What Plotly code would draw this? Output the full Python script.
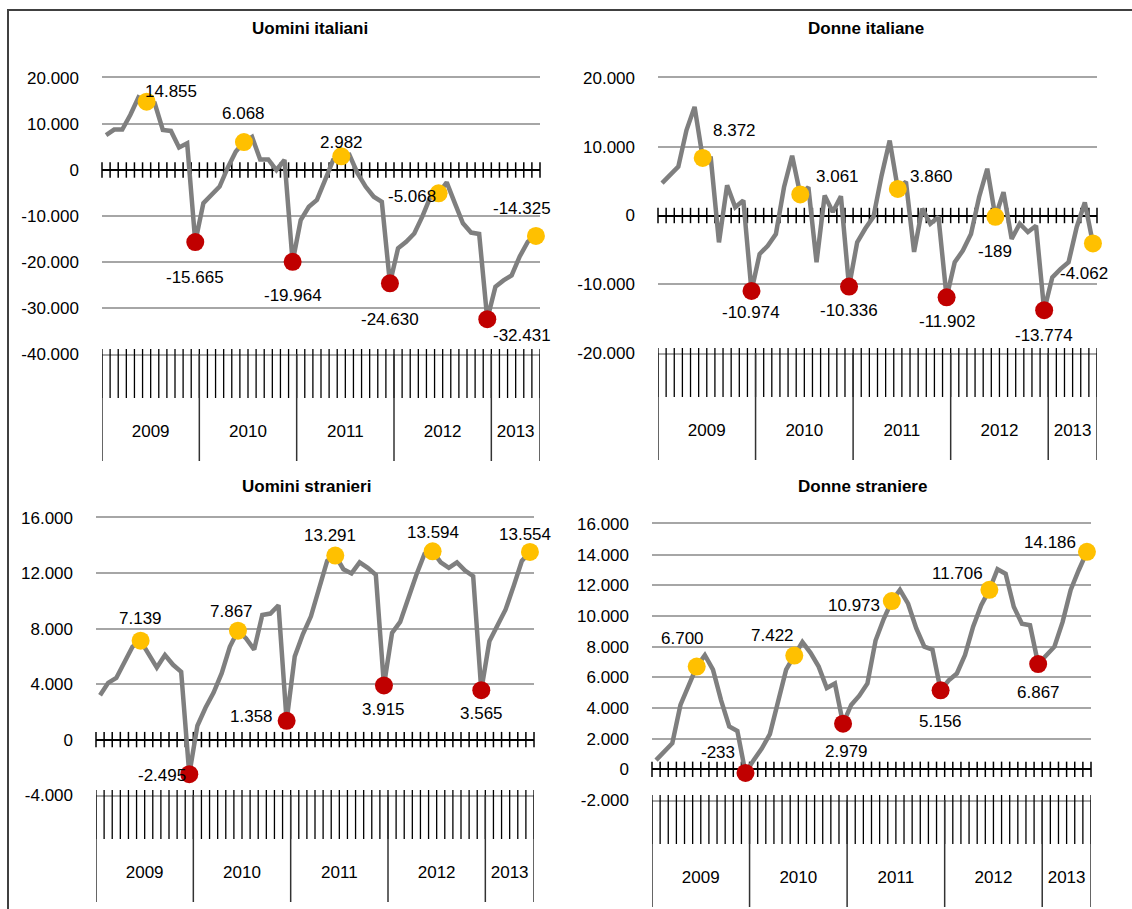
import plotly.graph_objects as go

W, H = 1132, 909

# ---------------- data ----------------
years = ["2009", "2010", "2011", "2012", "2013"]
months_per_year = [12, 12, 12, 12, 6]

titles = ["Uomini italiani", "Donne italiane", "Uomini stranieri", "Donne straniere"]

uomini_italiani = [7600, 8800, 8800, 12000, 15800, 14855, 14500, 8700, 8500, 4900, 5800, -15665,
                   -7200, -5400, -3600, 500, 4000, 6068, 7200, 2300, 2300, 0, 2200, -19964,
                   -10900, -8000, -6500, -2200, 2200, 2982, 3300, -700, -3600, -5800, -6900, -24630,
                   -17000, -15600, -13800, -10100, -5800, -5068, -2700, -7200, -11600, -13600, -13900, -32431,
                   -25400, -24000, -22900, -18800, -15600, -14325]

donne_italiane = [4700, 5800, 7100, 12400, 15800, 8372, 8300, -3900, 4400, 1200, 2200, -10974,
                  -5600, -4400, -2700, 4100, 8700, 3061, 4100, -6800, 2900, 500, 2800, -10336,
                  -3900, -1900, -200, 5800, 10900, 3860, 4900, -5300, 1000, -1200, -200, -11902,
                  -6800, -5100, -2700, 2700, 6800, -189, 3400, -3400, -1200, -2400, -1500, -13774,
                  -9000, -7800, -6800, -1700, 1900, -4062]

uomini_stranieri = [3200, 4100, 4450, 5500, 6700, 7139, 6100, 5200, 6100, 5400, 4900, -2495,
                    1000, 2300, 3400, 4800, 6700, 7867, 7300, 6500, 9000, 9100, 9700, 1358,
                    6000, 7600, 8900, 10800, 12900, 13291, 12300, 12000, 12800, 12400, 11900, 3915,
                    7700, 8500, 10300, 11900, 13400, 13594, 12800, 12400, 12800, 12200, 11800, 3565,
                    7100, 8300, 9400, 11100, 12900, 13554]

donne_straniere = [600, 1200, 1700, 4200, 5500, 6700, 7450, 6500, 4500, 2800, 2500, -233,
                   600, 1350, 2300, 4500, 6500, 7422, 8300, 7600, 6700, 5300, 5600, 2979,
                   4200, 4800, 5600, 8400, 9800, 10973, 11700, 10800, 9200, 8000, 7800, 5156,
                   5800, 6250, 7450, 9300, 10700, 11706, 13050, 12750, 10600, 9500, 9400, 6867,
                   7450, 8000, 9600, 11700, 13000, 14186]

# highlighted months (June = peak, December = trough)
highlight_idx = [5, 11, 17, 23, 29, 35, 41, 47, 53]

ytick_vals_1 = [20000, 10000, 0, -10000, -20000, -30000, -40000]
ytick_text_1 = ["20.000", "10.000", "0", "-10.000", "-20.000", "-30.000", "-40.000"]
ytick_vals_2 = [20000, 10000, 0, -10000, -20000]
ytick_text_2 = ["20.000", "10.000", "0", "-10.000", "-20.000"]
ytick_vals_3 = [16000, 12000, 8000, 4000, 0, -4000]
ytick_text_3 = ["16.000", "12.000", "8.000", "4.000", "0", "-4.000"]
ytick_vals_4 = [16000, 14000, 12000, 10000, 8000, 6000, 4000, 2000, 0, -2000]
ytick_text_4 = ["16.000", "14.000", "12.000", "10.000", "8.000", "6.000", "4.000", "2.000", "0", "-2.000"]

# ---------------- styling / layout (pixels) ----------------
FONT = "Liberation Sans, Arial, sans-serif"
FS = 17
LINE_GRAY = "#7f7f7f"
GRID = "#a6a6a6"
YELLOW = "#FFC000"
RED = "#C00000"

panels = [
    dict(series=uomini_italiani, tv=ytick_vals_1, tt=ytick_text_1, x0=102, x1=540, yt=78, yb=354,
         tx=310, ty=28,
         offs=[(24, 10), (0, -35), (0, 29), (0, -34), (0, 14), (0, -36), (-27, -3), (35, -16), (-14, 27)]),
    dict(series=donne_italiane, tv=ytick_vals_2, tt=ytick_text_2, x0=658, x1=1097, yt=78, yb=353,
         tx=866, ty=28,
         offs=[(32, 27), (0, -22), (37, 18), (0, -24), (34, 12), (0, -24), (0, -35), (0, -25), (-9, -30)]),
    dict(series=uomini_stranieri, tv=ytick_vals_3, tt=ytick_text_3, x0=96, x1=534, yt=518, yb=795,
         tx=306, ty=486,
         offs=[(0, 22), (-27, -1), (-6, 19), (-35, 4), (-5, 20), (0, -24), (0, 19), (0, -23), (-5, 17)]),
    dict(series=donne_straniere, tv=ytick_vals_4, tt=ytick_text_4, x0=652, x1=1091, yt=524, yb=800,
         tx=862, ty=486,
         offs=[(-14, 28), (-27, 20), (-22, 20), (3, -28), (-38, -4), (0, -31), (-32, 16), (0, -28), (-37, 9)]),
]


def fx(px):
    return min(max(px / W, 0.0), 1.0)


def fy(py):
    return min(max(1 - py / H, 0.0), 1.0)


def fmt(v):
    return f"{v:,}".replace(",", ".")


n = sum(months_per_year)
xs = list(range(n))
bounds = [k - 0.5 for k in range(n + 1)]
year_edges = [-0.5]
for m in months_per_year:
    year_edges.append(year_edges[-1] + m)
year_centers = [(year_edges[i] + year_edges[i + 1]) / 2 for i in range(len(years))]

fig = go.Figure()
layout = dict(
    width=W, height=H, autosize=False,
    margin=dict(l=0, r=0, t=0, b=0, pad=0, autoexpand=False),
    paper_bgcolor="white", plot_bgcolor="rgba(0,0,0,0)",
    showlegend=False, font=dict(family=FONT, size=FS, color="black"),
    annotations=[], shapes=[],
)


def ax_names(k):
    return ("x" if k == 1 else f"x{k}", "y" if k == 1 else f"y{k}",
            "xaxis" if k == 1 else f"xaxis{k}", "yaxis" if k == 1 else f"yaxis{k}")


for p, P in enumerate(panels):
    k = p + 1
    xr, yr, xk, yk = ax_names(k)
    vals = P["series"]
    ymin, ymax = min(P["tv"]), max(P["tv"])
    layout[xk] = dict(domain=[fx(P["x0"]), fx(P["x1"])], anchor=yr, range=[-0.5, n - 0.5],
                      showgrid=False, zeroline=False, showticklabels=False, ticks="",
                      showline=True, mirror=True, linecolor=GRID, linewidth=1.5,
                      automargin=False, fixedrange=True)
    layout[yk] = dict(domain=[fy(P["yb"]), fy(P["yt"])], anchor=xr, range=[ymin, ymax],
                      tickvals=P["tv"], ticktext=P["tt"], ticks="", ticklabelstandoff=22,
                      showgrid=True, gridcolor=GRID, gridwidth=1.5,
                      zeroline=True, zerolinecolor="black", zerolinewidth=2,
                      showline=False, tickfont=dict(family=FONT, size=FS, color="black"),
                      automargin=False, fixedrange=True)

    # crossing tick marks on the zero line
    fig.add_trace(go.Scatter(x=bounds, y=[0] * len(bounds), xaxis=xr, yaxis=yr, mode="markers",
                             marker=dict(symbol="line-ns", size=11, line=dict(width=1.5, color="black")),
                             cliponaxis=False, hoverinfo="skip"))
    # series line
    fig.add_trace(go.Scatter(x=xs, y=vals, xaxis=xr, yaxis=yr, mode="lines",
                             line=dict(color=LINE_GRAY, width=4.5), hoverinfo="skip"))
    # highlighted points
    hv = [vals[i] for i in highlight_idx]
    cols = [YELLOW if j % 2 == 0 else RED for j in range(len(highlight_idx))]
    fig.add_trace(go.Scatter(x=highlight_idx, y=hv, xaxis=xr, yaxis=yr, mode="markers",
                             marker=dict(size=18, color=cols, line=dict(width=0)),
                             cliponaxis=False, hoverinfo="skip"))
    for j, i in enumerate(highlight_idx):
        dx, dy = P["offs"][j]
        layout["annotations"].append(dict(
            x=i, y=vals[i], xref=xr, yref=yr, text=fmt(vals[i]), showarrow=False,
            xshift=dx, yshift=dy, font=dict(family=FONT, size=FS, color="black")))

    # title
    layout["annotations"].append(dict(
        x=fx(P["tx"]), y=fy(P["ty"]), xref="paper", yref="paper", text=f"<b>{titles[p]}</b>",
        showarrow=False, xanchor="center", yanchor="middle",
        font=dict(family=FONT, size=FS, color="black")))

    # category (month / year) area below the plot
    kc = p + 5
    xrc, yrc, xkc, ykc = ax_names(kc)
    top_px = P["yb"] - 8
    bot_px = min(P["yb"] + 110, H)
    layout[xkc] = dict(domain=[fx(P["x0"]), fx(P["x1"])], anchor=yrc, range=[-0.5, n - 0.5],
                       visible=False, fixedrange=True)
    layout[ykc] = dict(domain=[fy(bot_px), fy(top_px)], anchor=xrc,
                       range=[bot_px - P["yb"], top_px - P["yb"]],
                       visible=False, fixedrange=True)
    mx, my = [], []
    for b in bounds:
        mx += [b, b, None]
        my += [-5, 44, None]
    fig.add_trace(go.Scatter(x=mx, y=my, xaxis=xrc, yaxis=yrc, mode="lines",
                             line=dict(color="black", width=1.3), hoverinfo="skip"))
    yx, yy = [], []
    for b in year_edges:
        yx += [b, b, None]
        yy += [0, 107, None]
    fig.add_trace(go.Scatter(x=yx, y=yy, xaxis=xrc, yaxis=yrc, mode="lines",
                             line=dict(color="#333333", width=1.5), hoverinfo="skip"))
    fig.add_trace(go.Scatter(x=year_centers, y=[79] * len(years), text=years, xaxis=xrc, yaxis=yrc,
                             mode="text", textfont=dict(family=FONT, size=FS, color="black"),
                             cliponaxis=False, hoverinfo="skip"))

# outer frame (top and left borders)
layout["shapes"].append(dict(type="line", xref="paper", yref="paper",
                             x0=fx(7), x1=1, y0=fy(10), y1=fy(10),
                             line=dict(color="#404040", width=2), layer="above"))
layout["shapes"].append(dict(type="line", xref="paper", yref="paper",
                             x0=fx(8), x1=fx(8), y0=0, y1=fy(9),
                             line=dict(color="#404040", width=2), layer="above"))

fig.update_layout(**layout)
fig.write_html("out.html", config={"displayModeBar": False, "responsive": False},
               post_script="document.documentElement.style.margin='0';"
                           "document.body.style.margin='0';document.body.style.overflow='hidden';")
